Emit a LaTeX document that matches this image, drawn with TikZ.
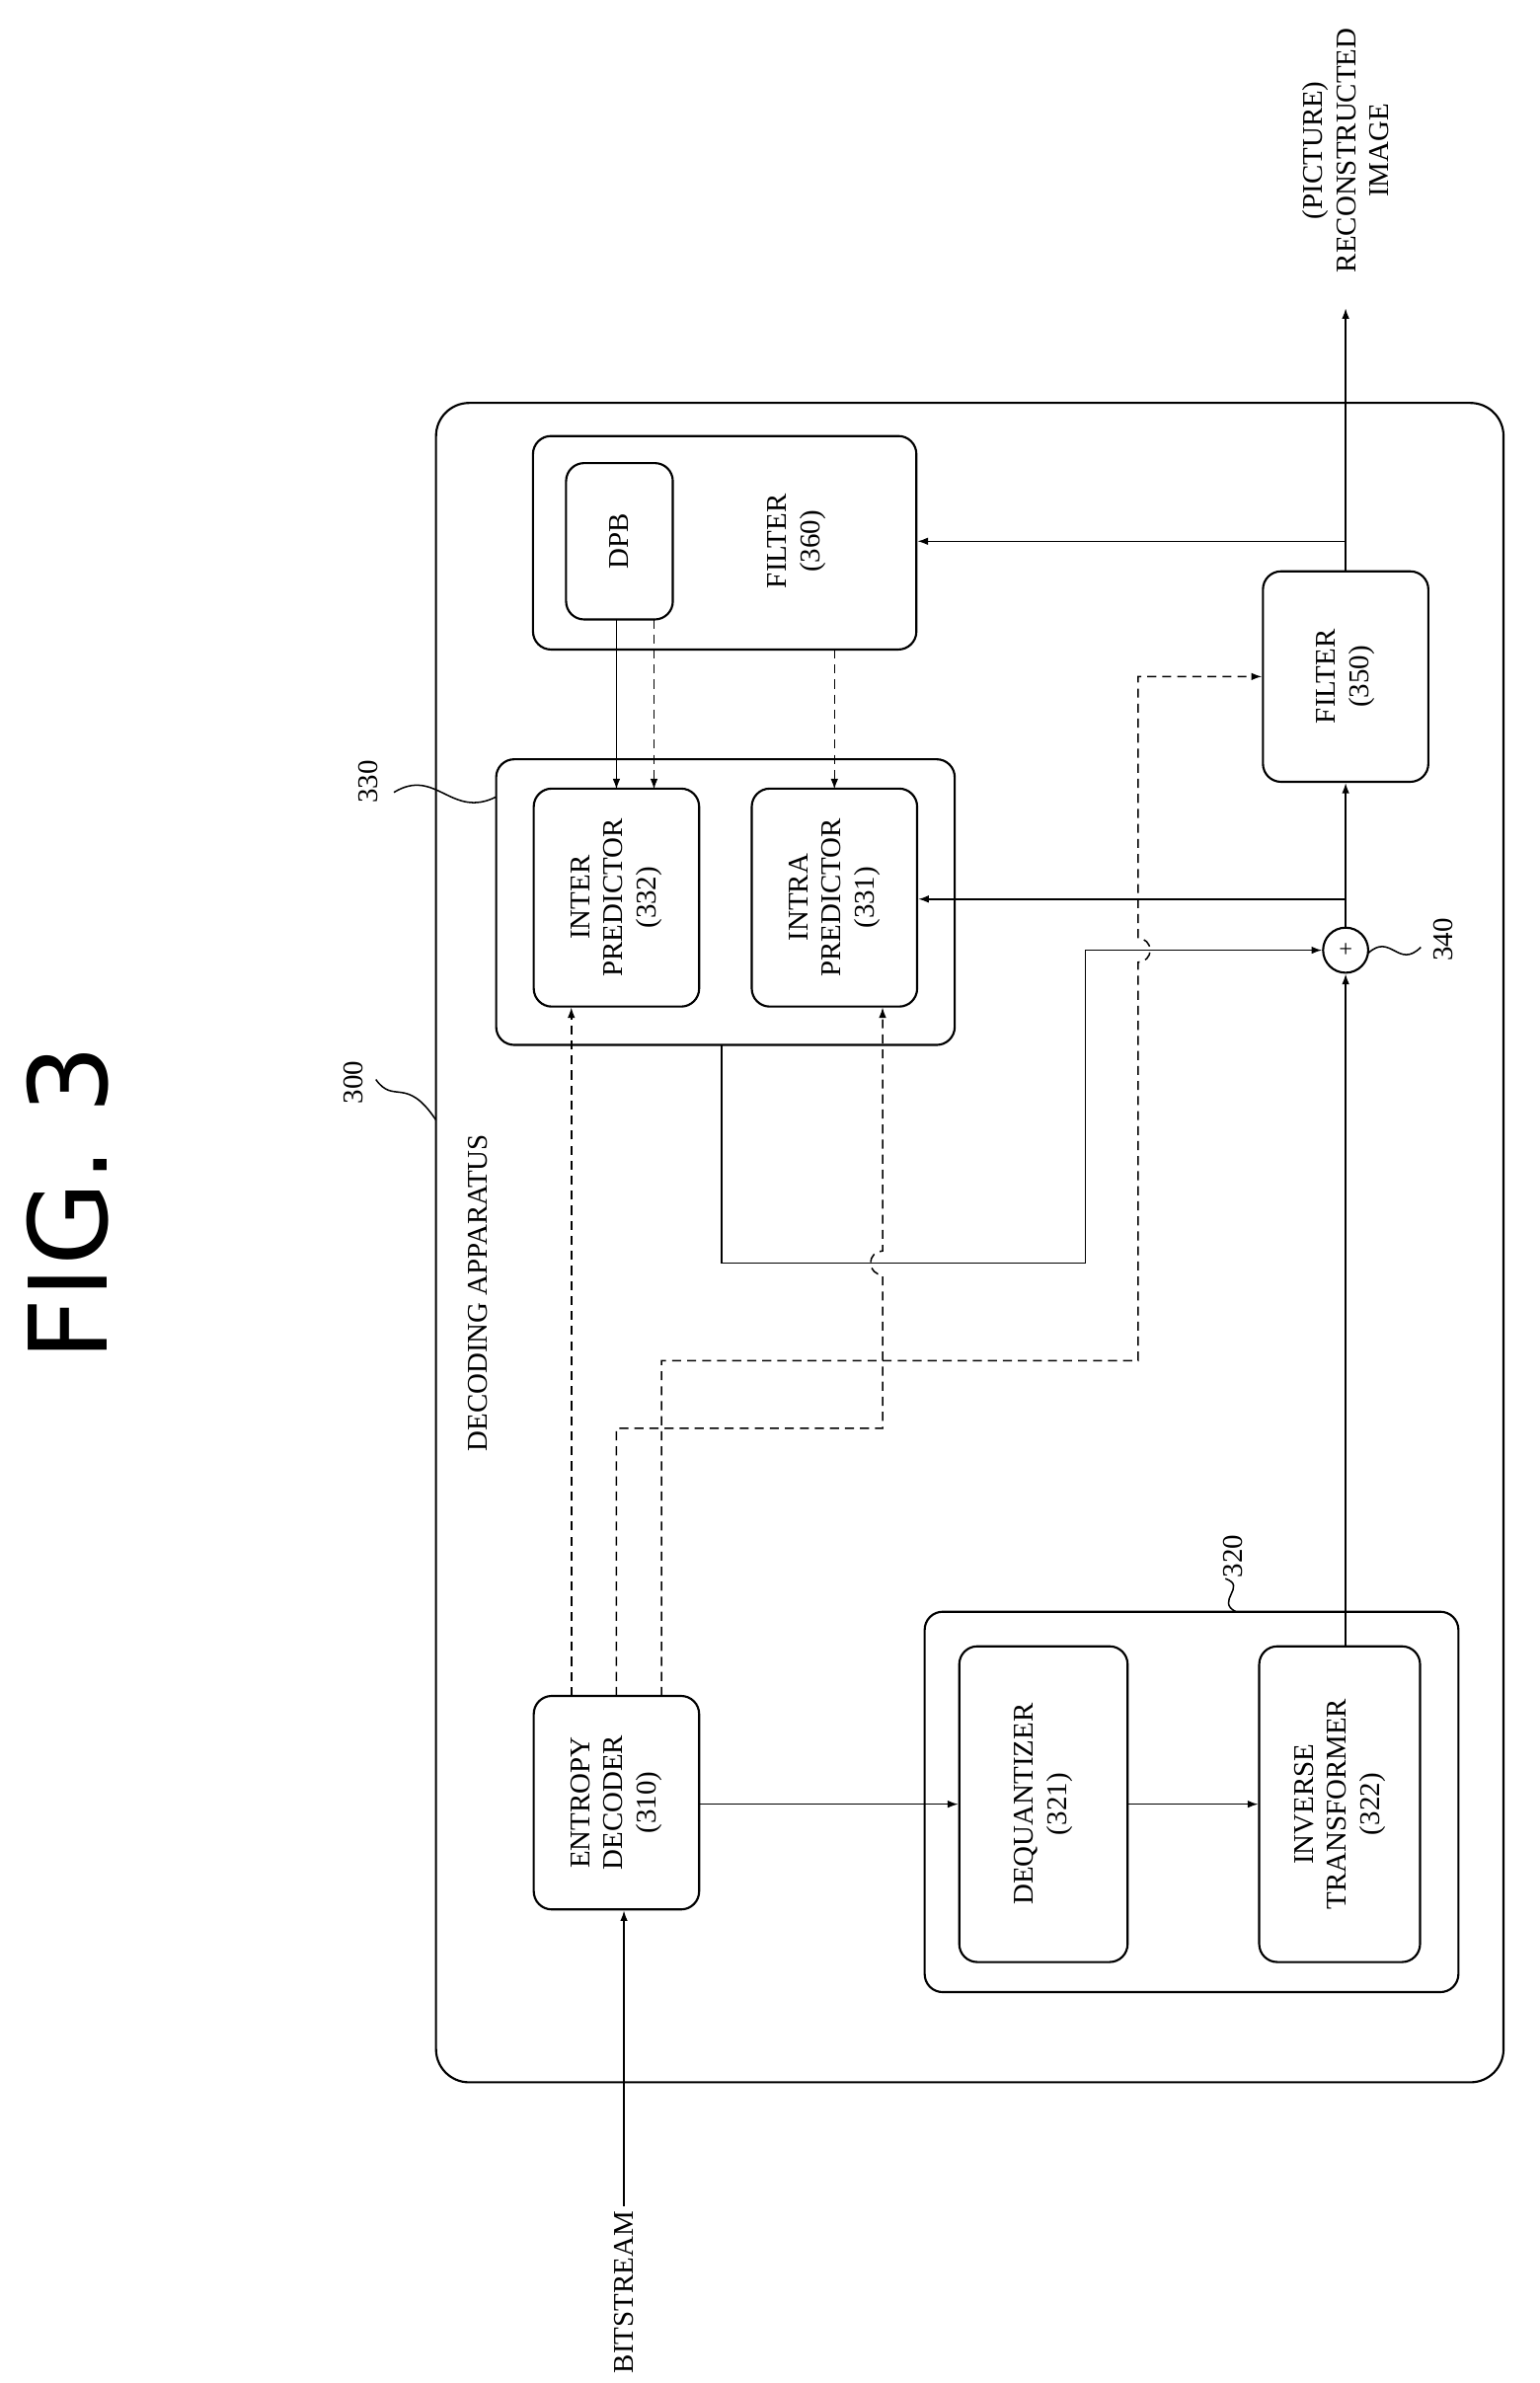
\documentclass[tikz,border=0pt]{standalone}
\usepackage{fontspec}
\setmainfont{Liberation Serif}
\newfontfamily\figfont{DejaVu Sans}
\usetikzlibrary{arrows.meta}
\begin{document}
\begin{tikzpicture}[x=1pt,y=-1pt,
  box/.style={draw,line width=1.4pt,rounded corners=12pt},
  lbl/.style={rotate=90,align=center,font=\fontsize{19}{22}\selectfont},
  ar/.style={line width=1pt,-{Latex[length=7pt,width=5pt]}},
  da/.style={ar,dash pattern=on 6pt off 4pt},
  ln/.style={line width=1pt}]
\useasboundingbox (0,0) rectangle (1024,1585);
\node[rotate=90,font=\figfont\fontsize{72}{72}\selectfont] (fig) at (45,800) {FIG. 3};
\draw[box,rounded corners=22pt] (290,268) rectangle (1000,1385);
\node (outer) at (645,826) {};
\node[lbl] (t300) at (235,720) {300};
\draw[ln] (250,718) .. controls (262,735) and (270,715) .. (290,745);
\node[lbl] (dec) at (318,860) {DECODING APPARATUS};
% boxes
\node[box,minimum width=110pt,minimum height=142pt] (ent) at (410,1199) {};
\node[lbl] at (ent) {ENTROPY\\DECODER\\(310)};
\draw[box] (615,1072) rectangle (970,1325);
\node (g320) at (792,1198) {};
\node[lbl] (t320) at (820,1035) {320};
\draw[ln] (815,1050) .. controls (830,1055) and (808,1065) .. (822,1072);
\node[box,minimum width=112pt,minimum height=210pt] (deq) at (694,1200) {};
\node[lbl] at (deq) {DEQUANTIZER\\(321)};
\node[box,minimum width=107pt,minimum height=210pt] (inv) at (891,1200) {};
\node[lbl] at (inv) {INVERSE\\TRANSFORMER\\(322)};
\draw[box] (330,505) rectangle (635,695);
\node (g330) at (482,600) {};
\node[lbl] (t330) at (245,520) {330};
\draw[ln] (262,527) .. controls (290,510) and (300,545) .. (330,530);
\node[box,minimum width=110pt,minimum height=145pt] (inter) at (410,597) {};
\node[lbl] at (inter) {INTER\\PREDICTOR\\(332)};
\node[box,minimum width=110pt,minimum height=145pt] (intra) at (555,597) {};
\node[lbl] at (intra) {INTRA\\PREDICTOR\\(331)};
\node[box,minimum width=255pt,minimum height=142pt] (f360) at (482,361) {};
\node[box,minimum width=71pt,minimum height=104pt] (dpb) at (412,360) {};
\node[lbl] at (dpb) {DPB};
\node[lbl] (f360t) at (530,360) {FILTER\\(360)};
\node[box,minimum width=110pt,minimum height=140pt] (f350) at (895,450) {};
\node[lbl] at (f350) {FILTER\\(350)};
\node[draw,circle,line width=1.4pt,minimum size=30pt,inner sep=0pt] (add) at (895,632) {};
\node[font=\fontsize{16}{16}\selectfont] at (add) {+};
\node[lbl] (t340) at (960,625) {340};
\draw[ln] (910,634) .. controls (925,620) and (930,645) .. (945,630);
% output
\node[lbl] (out) at (895,100) {(PICTURE)\\RECONSTRUCTED\\IMAGE};
\coordinate (o1) at (895,205);
\coordinate (br) at (895,360);
\draw[ar] (f350.north) -- (o1);
\draw[ar] (br) -- (f360.east |- br);
% bitstream
\node[lbl,anchor=west] (bs) at (415,1582) {BITSTREAM};
\draw[ar] (bs.east) -- (ent.south -| bs.east);
\draw[ar] (ent.east |- 0,1200) -- (deq.west |- 0,1200);
\draw[ar] (deq.east |- 0,1200) -- (inv.west |- 0,1200);
\draw[ar] (inv.north -| add) -- (add.south);
\draw[ar] (add.north) -- (f350.south);
\coordinate (b2) at (895,598);
\draw[ar] (b2) -- (intra.east |- b2);
% prediction output
\draw[ar] (480,695) -- (480,840) -- (722,840) -- (722,632) -- (add.west);
% dashed from entropy decoder
\draw[da] (380,1128) -- (380,670);
\draw[da] (410,1128) -- (410,950) -- (587,950) -- (587,848) arc[start angle=90,end angle=-90,radius=-8pt] -- (587,670);
\draw[da] (440,1128) -- (440,905) -- (757,905) -- (757,640) arc[start angle=-90,end angle=90,radius=8pt] -- (757,450) -- (f350.west |- 0,450);
% DPB to predictors
\draw[ar] (410,412) -- (410,525);
\draw[da] (435,412) -- (435,525);
\draw[da] (555,432) -- (555,525);
\end{tikzpicture}
\end{document}
